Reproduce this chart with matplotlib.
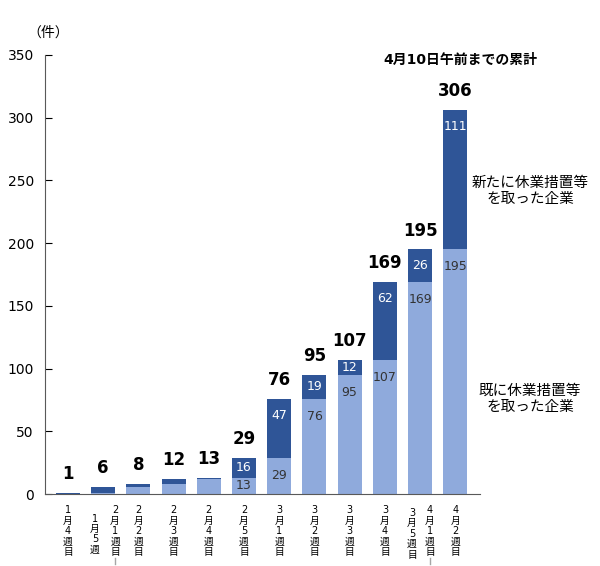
import matplotlib.pyplot as plt
import matplotlib.transforms as mtransforms

plt.rcParams['font.family'] = ['DejaVu Sans', 'Noto Sans CJK JP']

# data
existing = [0, 1, 6, 8, 12, 13, 29, 76, 95, 107, 169, 195]
new = [1, 5, 2, 4, 1, 16, 47, 19, 12, 62, 26, 111]
totals = [e + n for e, n in zip(existing, new)]

# week labels: (bar index, label)
week_labels = [
    (0, '1月4週目'), (1, '1月5週'), (1, '2月1週目'), (2, '2月2週目'),
    (3, '2月3週目'), (4, '2月4週目'), (5, '2月5週目'), (6, '3月1週目'),
    (7, '3月2週目'), (8, '3月3週目'), (9, '3月4週目'), (10, '3月5週目'),
    (10, '4月1週目'), (11, '4月2週目'),
]
# layout tweaks for the split weeks (x offset, top offset in pt)
label_shift = {'1月5週': (-0.23, -14), '2月1週目': (0.34, -8),
               '3月5週目': (-0.23, -10), '4月1週目': (0.28, -8)}

dark = '#2F5597'
light = '#8FAADC'
jp = ['Noto Sans CJK JP', 'DejaVu Sans']

fig = plt.figure(figsize=(6, 5.66), dpi=100)
ax = fig.add_axes([0.075, 0.127, 0.725, 0.776])

x = list(range(len(totals)))
ax.bar(x, existing, width=0.68, color=light)
ax.bar(x, new, width=0.68, bottom=existing, color=dark)

ax.set_xlim(-0.65, 11.7)
ax.set_ylim(0, 350)
ax.set_yticks(range(0, 351, 50))
ax.tick_params(axis='y', direction='in', length=5, labelsize=10, pad=8)
ax.set_xticks([])
for s in ['top', 'right']:
    ax.spines[s].set_visible(False)
ax.spines['left'].set_color('#595959')
ax.spines['bottom'].set_color('#595959')

# totals above bars
for i, t in enumerate(totals):
    ax.annotate(str(t), (i, t), xytext=(0, 7), textcoords='offset points',
                ha='center', va='bottom', fontsize=12, fontweight='bold')

# values inside bars (from 2月5週目 onwards)
for i in range(5, len(totals)):
    e, n = existing[i], new[i]
    ax.text(i, e - min(e / 2, 14), str(e), ha='center', va='center',
            fontsize=9, color='#333333')
    ax.text(i, e + n - min(n / 2, 13), str(n), ha='center', va='center',
            fontsize=9, color='white')

# vertical week labels
trans = mtransforms.blended_transform_factory(ax.transData, ax.transAxes)
for idx, lab in week_labels:
    dx, dy = label_shift.get(lab, (0, -8))
    ax.annotate('\n'.join(lab), (idx + dx, 0), xycoords=trans,
                xytext=(0, dy), textcoords='offset points',
                ha='center', va='top', fontsize=7, linespacing=1.05)
    if lab in ('2月1週目', '4月1週目'):
        ax.plot([idx + dx, idx + dx], [-0.145, -0.158], transform=trans,
                color='#a6a6a6', lw=1, clip_on=False)

fig.text(48 / 600, 1 - 33 / 566, '（件）', ha='center', va='center',
         fontsize=10, family=jp)
fig.text(460 / 600, 1 - 60 / 566, '4月10日午前までの累計', ha='center',
         va='center', fontsize=10, fontweight='bold')
fig.text(530 / 600, 1 - 191 / 566, '新たに休業措置等\nを取った企業', ha='center',
         va='center', fontsize=10.5, linespacing=1.15, family=jp)
fig.text(530 / 600, 1 - 399 / 566, '既に休業措置等\nを取った企業', ha='center',
         va='center', fontsize=10.5, linespacing=1.15, family=jp)

plt.savefig('out.png', dpi=100)
